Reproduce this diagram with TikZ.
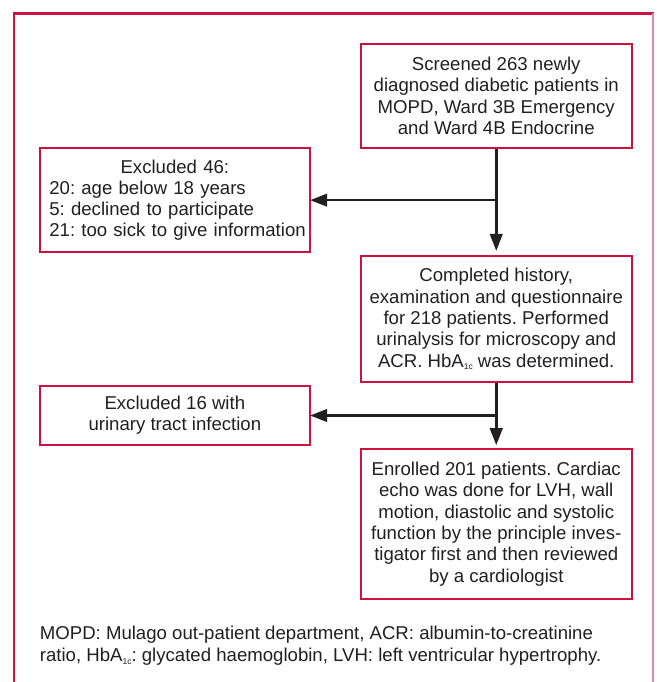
\documentclass[tikz,border=0pt]{standalone}
\usepackage{fontspec}
\setmainfont{Liberation Sans}
\usetikzlibrary{arrows.meta}
\definecolor{framecol}{RGB}{204,18,62}
\definecolor{ink}{RGB}{35,31,32}
\newcommand{\onec}{\raisebox{-2.6pt}{\fontsize{8.5}{8.5}\selectfont 1c}}
\begin{document}
\frenchspacing
\begin{tikzpicture}[x=1pt,y=-1pt,
  box/.style={draw=framecol,line width=2.2pt,inner sep=0pt,text=ink,
    font=\fontsize{18.6}{21.3}\selectfont\frenchspacing},
  flow/.style={draw=ink,line width=2.5pt,-{Triangle[length=17pt,width=12.5pt]}},
]
\useasboundingbox (0,0) rectangle (656,682);
\fill[white] (0,0) rectangle (656,682);
\begin{scope}
\clip (0,0) rectangle (656,682);
\draw[framecol,line width=2.2pt] (14,700) -- (14,13.5) -- (654,13.5);
\draw[framecol!50,line width=1.4pt] (652.8,13.5) -- (652.8,700);
\end{scope}

\node[box,minimum width=271pt,minimum height=103.4pt,align=center] (screen) at (496.25,96)
  {Screened 263 newly\\diagnosed diabetic patients in\\MOPD, Ward 3B Emergency\\and Ward 4B Endocrine};

\node[box,minimum width=270.3pt,minimum height=103.7pt,text width=251pt,align=left] (ex1) at (174.85,200.15)
  {\makebox[251pt][c]{Excluded 46:}\\\mbox{20: age below 18 years}\\\mbox{5: declined to participate}\\\mbox{21: too sick to give information}};

\node[box,minimum width=271pt,minimum height=126.3pt,align=center] (complete) at (496.25,319.15)
  {Completed history,\\examination and questionnaire\\for 218 patients. Performed\\urinalysis for microscopy and\\ACR. HbA\onec{} was determined.};

\node[box,minimum width=270.3pt,minimum height=59pt,align=center] (ex2) at (174.85,415.5)
  {Excluded 16 with\\urinary tract infection};

\node[box,minimum width=271pt,minimum height=149.4pt,align=center] (enroll) at (496.25,524)
  {Enrolled 201 patients. Cardiac\\echo was done for LVH, wall\\motion, diastolic and systolic\\function by the principle inves-\\tigator first and then reviewed\\by a cardiologist};

\node[anchor=north west,inner sep=0pt,align=left,text=ink,font=\fontsize{18.6}{21.7}\selectfont\frenchspacing] (note) at (39.7,626.3)
  {MOPD: Mulago out-patient department, ACR: albumin-to-creatinine\\ratio, HbA\onec: glycated haemoglobin, LVH: left ventricular hypertrophy.};

\draw[flow,shorten >=4pt] (screen.south) -- (complete.north);
\draw[flow,shorten >=-1pt] (screen.south |- ex1.east) -- (ex1.east);
\draw[flow,shorten >=3pt] (complete.south) -- (enroll.north);
\draw[flow,shorten >=-1pt] (complete.south |- ex2.east) -- (ex2.east);
\end{tikzpicture}
\end{document}
